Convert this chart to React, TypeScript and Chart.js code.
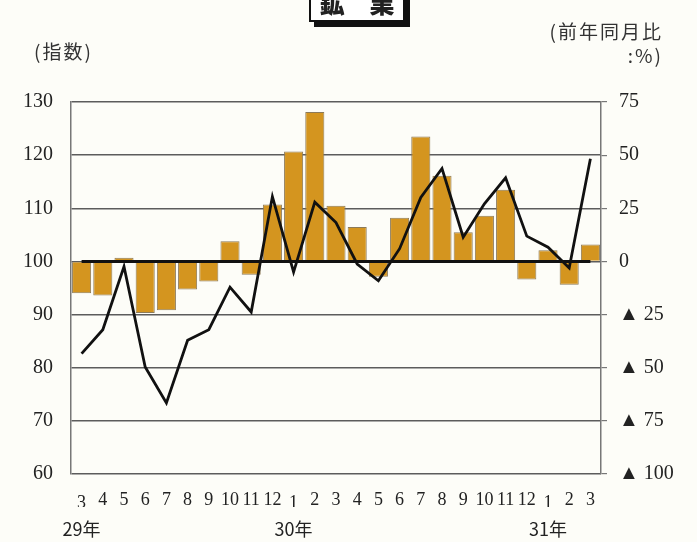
import React, { useEffect, useRef } from 'react';
import { Chart, registerables } from 'chart.js';

Chart.register(...registerables);

const months = ['3', '4', '5', '6', '7', '8', '9', '10', '11', '12', '1', '2', '3', '4', '5', '6', '7', '8', '9', '10', '11', '12', '1', '2', '3'];
const yearLabels = ['29年', '', '', '', '', '', '', '', '', '', '30年', '', '', '', '', '', '', '', '', '', '', '', '31年', '', ''];
const loweredTicks = [0, 10, 22];
const indexValues = [94.0, 93.6, 100.7, 90.3, 90.8, 94.7, 96.2, 103.8, 97.5, 110.7, 120.7, 128.1, 110.5, 106.5, 97.1, 108.2, 123.5, 116.1, 105.5, 108.6, 113.5, 96.6, 102.1, 95.6, 103.2];
const yoyValues = [-43.4, -32.1, -2.4, -49.7, -66.6, -37.1, -32.1, -12.1, -23.8, 30.5, -5.0, 27.9, 18.3, -1.2, -9.1, 6.0, 30.1, 43.7, 11.4, 27.1, 39.3, 11.9, 6.7, -3.1, 48.3];
const indexBase = 100;
const yoyBaseline = 0;

const SERIF = "'Liberation Serif', 'DejaVu Serif', serif";
const SANS = "'Noto Sans CJK JP', 'Noto Sans', sans-serif";

const baselinePlugin = {
  id: 'baseline',
  afterDatasetsDraw(chart: any) {
    const { ctx, scales } = chart;
    const x = scales.x;
    const y1 = scales.y1;
    const yPix = y1.getPixelForValue(yoyBaseline);
    ctx.save();
    ctx.strokeStyle = '#111';
    ctx.lineWidth = 3;
    ctx.beginPath();
    ctx.moveTo(x.getPixelForValue(0), yPix);
    ctx.lineTo(x.getPixelForValue(months.length - 1), yPix);
    ctx.stroke();
    ctx.restore();
  },
};

export default function App() {
  const ref = useRef<HTMLCanvasElement>(null);

  useEffect(() => {
    document.body.style.margin = '0';
    document.body.style.background = '#fdfdf8';
    const chart = new Chart(ref.current as HTMLCanvasElement, {
      type: 'bar',
      data: {
        labels: months,
        datasets: [
          {
            type: 'line',
            data: yoyValues,
            yAxisID: 'y1',
            xAxisID: 'x',
            borderColor: '#111',
            borderWidth: 2.8,
            pointRadius: 0,
            tension: 0,
            order: 0,
          } as any,
          {
            type: 'bar',
            data: indexValues,
            yAxisID: 'y',
            xAxisID: 'x',
            base: indexBase,
            backgroundColor: '#d4951f',
            borderColor: '#8c7a58',
            borderWidth: 1,
            barPercentage: 0.9,
            categoryPercentage: 1,
            order: 1,
          } as any,
        ],
      },
      options: {
        responsive: false,
        animation: false,
        layout: { padding: { left: 0, right: 0, top: 102, bottom: 0 } },
        plugins: { legend: { display: false }, tooltip: { enabled: false } },
        scales: {
          x: {
            type: 'category',
            position: 'bottom',
            offset: true,
            grid: { display: false },
            border: { display: false },
            ticks: {
              autoSkip: false,
              maxRotation: 0,
              minRotation: 0,
              padding: 7,
              color: '#222',
              font: (ctx: any) => ({
                family: SERIF,
                size: 18,
                lineHeight: loweredTicks.includes(ctx.index) ? 1.6 : 1.2,
              }),
            },
            afterFit: (s: any) => {
              s.height = 33;
            },
          },
          x2: {
            type: 'category',
            position: 'bottom',
            labels: yearLabels,
            offset: true,
            grid: { display: false },
            border: { display: false },
            ticks: {
              autoSkip: false,
              maxRotation: 0,
              minRotation: 0,
              padding: 3,
              color: '#222',
              font: { family: SANS, size: 18 },
            },
            afterFit: (s: any) => {
              s.height = 35;
            },
          },
          y: {
            position: 'left',
            min: 60,
            max: 130,
            ticks: {
              stepSize: 10,
              padding: 18,
              color: '#222',
              font: { family: SERIF, size: 20 },
            },
            grid: { color: '#5c5c5c', lineWidth: 1.5, drawTicks: false },
            border: { color: '#777', width: 1.5 },
            afterFit: (s: any) => {
              s.width = 71;
            },
          },
          y1: {
            position: 'right',
            min: -100,
            max: 75,
            ticks: {
              stepSize: 25,
              padding: 12,
              color: '#222',
              font: { family: SERIF, size: 20 },
              callback: (v: any) => (Number(v) < 0 ? '▲ ' + Math.abs(Number(v)) : String(v)),
            },
            grid: { drawOnChartArea: false, color: '#777', lineWidth: 1.2, tickLength: 6 },
            border: { color: '#777', width: 1.5 },
            afterFit: (s: any) => {
              s.width = 96;
            },
          },
        },
      },
      plugins: [baselinePlugin],
    });
    return () => chart.destroy();
  }, []);

  return (
    <div style={{ position: 'fixed', left: 0, top: 0, width: 697, height: 542, background: '#fdfdf8', overflow: 'hidden' }}>
      <canvas ref={ref} width={697} height={542} style={{ position: 'absolute', left: 0, top: 0 }} />
      <div
        style={{
          position: 'absolute',
          left: 309,
          top: -17,
          width: 92,
          height: 35,
          border: '2.5px solid #111',
          boxShadow: '5px 5px 0 #111',
          background: '#fff',
          textAlign: 'center',
          lineHeight: '35px',
          fontFamily: SANS,
          fontWeight: 900,
          fontSize: 25,
          color: '#222',
        }}
      >
        鉱　業
      </div>
      <div style={{ position: 'absolute', left: 34, top: 38, fontFamily: SANS, fontSize: 19, letterSpacing: 2, color: '#333', whiteSpace: 'nowrap', lineHeight: '26px' }}>
        (指数)
      </div>
      <div style={{ position: 'absolute', right: 34, top: 18, fontFamily: SANS, fontSize: 19, letterSpacing: 2, color: '#333', whiteSpace: 'nowrap', lineHeight: '26px', textAlign: 'right' }}>
        (前年同月比
      </div>
      <div style={{ position: 'absolute', right: 34, top: 42, fontFamily: SANS, fontSize: 19, letterSpacing: 2, color: '#333', whiteSpace: 'nowrap', lineHeight: '26px', textAlign: 'right' }}>
        :%)
      </div>
    </div>
  );
}
